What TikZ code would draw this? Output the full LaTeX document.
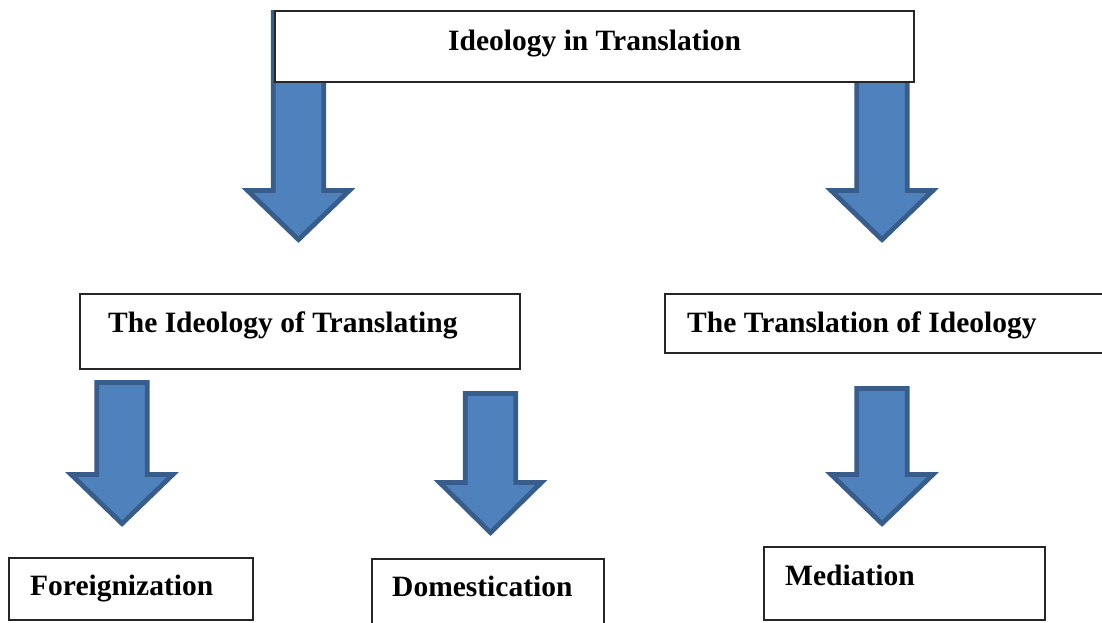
\documentclass[tikz,border=0pt]{standalone}
\usepackage{fontspec}
\setmainfont{Liberation Serif}
\definecolor{arrfill}{HTML}{4F81BD}
\definecolor{arrline}{HTML}{385D8A}
\tikzset{
  blk/.style={fill=arrfill, draw=arrline, line width=4.8pt, line join=miter},
  box/.style={draw=black!85, line width=1.3pt, fill=white, rectangle, inner sep=0pt, outer sep=0pt, anchor=north west},
  lbl/.style={anchor=base west, inner sep=0pt, font=\fontsize{29.5}{34}\selectfont\bfseries}
}
\newcommand\blkarrow[4]{%
  \draw[blk] ({#1-25.3},{#2+2.4}) -- ({#1+25.3},{#2+2.4}) -- ({#1+25.3},{#3+2.4})
    -- ({#1+51},{#3+2.4}) -- (#1,{#4-3.4}) -- ({#1-51},{#3+2.4})
    -- ({#1-25.3},{#3+2.4}) -- cycle;}
\begin{document}
\begin{tikzpicture}[x=1pt,y=-1pt]
\useasboundingbox (0,0) rectangle (1102,622);
\clip (0,0) rectangle (1102,622);
% block arrows
\blkarrow{298.5}{10}{188}{243}
\blkarrow{882}{10}{188}{243}
\blkarrow{122}{380}{472}{527}
\blkarrow{490.5}{391}{480}{536}
\blkarrow{882}{386}{472}{527}
% boxes
\node[box, minimum width=639pt, minimum height=71pt] (top) at (275,11) {};
\node[box, minimum width=440pt, minimum height=75pt] (left) at (80,294) {};
\node[box, minimum width=440pt, minimum height=59pt] (right) at (665,294) {};
\node[box, minimum width=244pt, minimum height=62pt] (foreign) at (9,558) {};
\node[box, minimum width=232pt, minimum height=70pt] (domest) at (372,559) {};
\node[box, minimum width=281pt, minimum height=73pt] (mediat) at (764,547) {};
% labels
\node[lbl] (ttop) at (448,50) {Ideology in Translation};
\node[lbl] (tleft) at (108,332) {The Ideology of Translating};
\node[lbl] (tright) at (687,332) {The Translation of Ideology};
\node[lbl] (tforeign) at (30,595) {Foreignization};
\node[lbl] (tdomest) at (392,596) {Domestication};
\node[lbl] (tmediat) at (785,585) {Mediation};
\end{tikzpicture}
\end{document}
